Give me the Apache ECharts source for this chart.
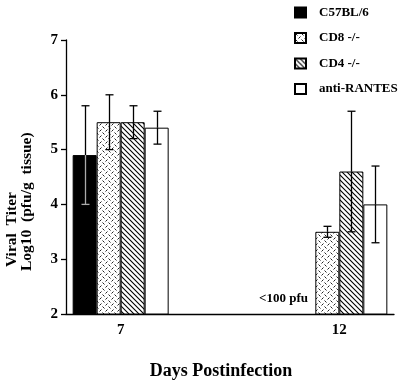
<!DOCTYPE html>
<html><head><meta charset="utf-8">
<script src="https://cdn.jsdelivr.net/npm/echarts@6/dist/echarts.min.js"></script>
<style>html,body{margin:0;padding:0;background:#fff}#c{width:400px;height:385px}</style>
</head><body><div id="c"></div>
<script>
// ---- data ----
const categories = ['7', '', '12'];
const seriesNames = ['C57BL/6', 'CD8 -/-', 'CD4 -/-', 'anti-RANTES'];
const c57Values = [4.9, null, null];
const cd8Values = [5.5, null, 3.5];
const cd4Values = [5.5, null, 4.6];
const rantesValues = [5.4, null, 4.0];
const c57Err = [[4.0, 5.8], null, null];
const cd8Err = [[5.0, 6.0], null, [3.4, 3.6]];
const cd4Err = [[5.2, 5.8], null, [3.5, 5.7]];
const rantesErr = [[5.1, 5.7], null, [3.3, 4.7]];
const yMin = 2, yMax = 7, yStep = 1;
const yTitle1 = 'Viral  Titer';
const yTitle2 = 'Log10  (pfu/g  tissue)';
const xTitle = 'Days Postinfection';
const noteText = '<100 pfu';

// ---- styles ----
const FONT = '"Liberation Serif", "Times New Roman", serif';
const BAR_W = 24;

function makePattern(kind) {
  const cv = document.createElement('canvas');
  const ctx = cv.getContext('2d');
  if (kind === 'dash') {
    cv.width = 6; cv.height = 6;
    ctx.fillStyle = '#fff'; ctx.fillRect(0, 0, 6, 6);
    ctx.strokeStyle = '#222'; ctx.lineWidth = 1;
    ctx.beginPath();
    ctx.moveTo(0.5, 0.5); ctx.lineTo(2.5, 2.5);
    ctx.moveTo(3.5, 5.5); ctx.lineTo(5.5, 3.5);
    ctx.stroke();
  } else {
    const s = 5;
    cv.width = s; cv.height = s;
    ctx.fillStyle = '#fff'; ctx.fillRect(0, 0, s, s);
    ctx.strokeStyle = '#000'; ctx.lineWidth = 1.1;
    ctx.beginPath();
    ctx.moveTo(-1, -1); ctx.lineTo(s + 1, s + 1);
    ctx.moveTo(-1, s - 1); ctx.lineTo(1, s + 1);
    ctx.moveTo(s - 1, -1); ctx.lineTo(s + 1, 1);
    ctx.stroke();
  }
  return { image: cv, repeat: 'repeat' };
}

const fills = ['#000', makePattern('dash'), makePattern('diag'), '#fff'];
const valueSets = [c57Values, cd8Values, cd4Values, rantesValues];
const errSets = [c57Err, cd8Err, cd4Err, rantesErr];

function errSeries(k) {
  const data = [];
  errSets[k].forEach((e, i) => { if (e) data.push([i, e[0], e[1], valueSets[k][i]]); });
  const inner = k === 0 ? '#aaa' : '#000';
  return {
    type: 'custom', silent: true, z: 5, data: data,
    encode: { x: 0, y: [1, 2] },
    renderItem: function (params, api) {
      const ci = api.value(0);
      const lo = api.coord([ci, api.value(1)]);
      const hi = api.coord([ci, api.value(2)]);
      const top = api.coord([ci, api.value(3)]);
      const x = Math.round(lo[0] + (k - 1.5) * BAR_W) + 0.5;
      const cap = 4;
      const st = { stroke: '#000', lineWidth: 1.3 };
      const st2 = { stroke: inner, lineWidth: 1.3 };
      return {
        type: 'group', children: [
          { type: 'line', shape: { x1: x, y1: hi[1], x2: x, y2: top[1] }, style: st },
          { type: 'line', shape: { x1: x, y1: top[1], x2: x, y2: lo[1] }, style: st2 },
          { type: 'line', shape: { x1: x - cap, y1: hi[1], x2: x + cap, y2: hi[1] }, style: st },
          { type: 'line', shape: { x1: x - cap, y1: lo[1], x2: x + cap, y2: lo[1] }, style: st2 }
        ]
      };
    }
  };
}

const series = [];
seriesNames.forEach((n, k) => {
  series.push({
    name: n, type: 'bar', data: valueSets[k], barWidth: BAR_W, barGap: '0%',
    itemStyle: { color: fills[k], borderColor: '#000', borderWidth: 1 },
    emphasis: { disabled: true }
  });
});
seriesNames.forEach((n, k) => series.push(errSeries(k)));

const chart = echarts.init(document.getElementById('c'), null, { renderer: 'canvas' });
chart.setOption({
  animation: false,
  backgroundColor: '#fff',
  grid: { left: 66, right: 6, top: 40, bottom: 71, containLabel: false },
  legend: {
    data: seriesNames, orient: 'vertical', left: 289, top: 1,
    itemWidth: 11, itemHeight: 10, itemGap: 12.5, icon: 'rect',
    textStyle: { fontFamily: FONT, fontWeight: 'bold', fontSize: 13, color: '#000', padding: [0, 0, 0, 8] },
    selectedMode: false
  },
  xAxis: {
    type: 'category', data: categories,
    axisLine: { lineStyle: { color: '#000', width: 1.3 } },
    axisTick: { alignWithLabel: true, interval: 0, length: 6, lineStyle: { color: '#000', width: 1.3 } },
    axisLabel: { interval: 0, margin: 9, fontFamily: FONT, fontWeight: 'bold', fontSize: 15, color: '#000' },
    splitLine: { show: false }
  },
  yAxis: {
    type: 'value', min: yMin, max: yMax, interval: yStep,
    axisLine: { show: true, lineStyle: { color: '#000', width: 1.3 } },
    axisTick: { show: true, length: 5, lineStyle: { color: '#000', width: 1.3 } },
    axisLabel: { margin: 8, fontFamily: FONT, fontWeight: 'bold', fontSize: 15, color: '#000' },
    splitLine: { show: false }
  },
  graphic: [
    { type: 'text', x: 12, y: 267, rotation: Math.PI / 2,
      style: { text: yTitle1, fill: '#000', font: 'bold 15.5px ' + FONT, align: 'left', verticalAlign: 'middle' } },
    { type: 'text', x: 26.5, y: 271, rotation: Math.PI / 2,
      style: { text: yTitle2, fill: '#000', font: 'bold 15.5px ' + FONT, align: 'left', verticalAlign: 'middle' } },
    { type: 'text', x: 221, y: 371,
      style: { text: xTitle, fill: '#000', font: 'bold 18px ' + FONT, align: 'center', verticalAlign: 'middle' } },
    { type: 'text', x: 259, y: 299,
      style: { text: noteText, fill: '#000', font: 'bold 13px ' + FONT, align: 'left', verticalAlign: 'middle' } }
  ],
  series: series
});
</script>
</body></html>
